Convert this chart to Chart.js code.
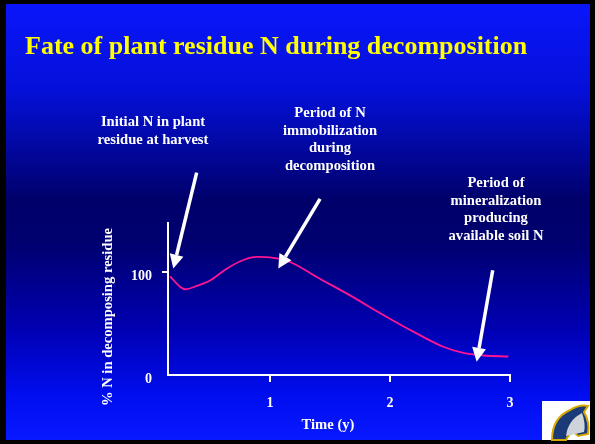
<!DOCTYPE html>
<html>
<head>
<meta charset="utf-8">
<script src="https://cdn.jsdelivr.net/npm/chart.js@4.4.0/dist/chart.umd.min.js"></script>
<style>
  html, body { margin: 0; padding: 0; background: #000; }
  canvas { display: block; }
</style>
</head>
<body>
<canvas id="fateChart" width="595" height="444"></canvas>
<script>
// time in years and % N remaining in the residue
const years = [0.167, 0.25, 0.292, 0.389, 0.5, 0.639, 0.778, 0.889, 1.028, 1.167, 1.389, 1.667, 1.944, 2.222, 2.444, 2.611, 2.778, 2.986];
const nPercent = [96, 86, 83.5, 86.7, 92, 103.5, 112, 115, 114, 110, 95.5, 77.5, 58.5, 40.5, 27.5, 21.5, 19, 18];
const xTicks = [1, 2, 3];
const yTicks = [0, 100];

const title = "Fate of plant residue N during decomposition";
// arrows: [tailX, tailY, tipX, tipY] in data units
const arrows = [
  [0.389, 197, 0.194, 103.6],
  [1.417, 171.5, 1.069, 103.6],
  [2.856, 102, 2.722, 12.9]
];
const notes = [
  { lines: ["Initial N in plant", "residue at harvest"], x: 153, y: 122 },
  { lines: ["Period of N", "immobilization", "during", "decomposition"], x: 330, y: 113 },
  { lines: ["Period of", "mineralization", "producing", "available soil N"], x: 496, y: 183 }
];

const serif = "'Liberation Serif', 'Times New Roman', serif";

const slidePlugin = {
  id: "slide",
  beforeDraw(chart) {
    const c = chart.ctx;
    c.save();
    c.fillStyle = "#000";
    c.fillRect(0, 0, chart.width, chart.height);
    const g = c.createLinearGradient(0, 4, 0, 440);
    g.addColorStop(0, "#0a16fa");
    g.addColorStop(0.2, "#0410d8");
    g.addColorStop(0.45, "#00006a");
    g.addColorStop(0.55, "#000070");
    g.addColorStop(0.75, "#0000b4");
    g.addColorStop(0.9, "#000ef0");
    g.addColorStop(1, "#0818ff");
    c.fillStyle = g;
    c.fillRect(6, 4, 584, 436);
    c.restore();
  },
  afterDraw(chart) {
    const c = chart.ctx;
    const xs = chart.scales.x, ys = chart.scales.y;
    c.save();
    // title
    c.fillStyle = "#ffff00";
    c.font = "bold 26px " + serif;
    c.textBaseline = "middle";
    c.textAlign = "left";
    c.fillText(title, 25, 47);

    // notes
    c.fillStyle = "#ffffff";
    c.font = "bold 14.6px " + serif;
    c.textAlign = "center";
    notes.forEach(n => {
      n.lines.forEach((l, i) => c.fillText(l, n.x, n.y + i * 17.8));
    });

    // axis titles
    c.font = "bold 14.6px " + serif;
    c.fillText("Time (y)", 328, 425);
    c.save();
    c.translate(108, 317);
    c.rotate(-Math.PI / 2);
    c.fillText("% N in decomposing residue", 0, 0);
    c.restore();

    // arrows
    c.strokeStyle = "#fff";
    c.fillStyle = "#fff";
    c.lineWidth = 3.5;
    arrows.forEach(a => {
      const x1 = xs.getPixelForValue(a[0]), y1 = ys.getPixelForValue(a[1]);
      const x2 = xs.getPixelForValue(a[2]), y2 = ys.getPixelForValue(a[3]);
      const ang = Math.atan2(y2 - y1, x2 - x1);
      const hl = 14, hw = 7;
      const bx = x2 - hl * Math.cos(ang), by = y2 - hl * Math.sin(ang);
      c.beginPath();
      c.moveTo(x1, y1);
      c.lineTo(bx, by);
      c.stroke();
      c.beginPath();
      c.moveTo(x2, y2);
      c.lineTo(bx + hw * Math.sin(ang), by - hw * Math.cos(ang));
      c.lineTo(bx - hw * Math.sin(ang), by + hw * Math.cos(ang));
      c.closePath();
      c.fill();
    });

    // little horse-head logo in the corner
    c.fillStyle = "#fff";
    c.fillRect(542, 401, 48, 39);
    c.beginPath();
    c.moveTo(552, 440);
    c.quadraticCurveTo(552, 418, 570, 410);
    c.quadraticCurveTo(580, 404, 588, 406);
    c.lineTo(584, 412);
    c.quadraticCurveTo(590, 422, 588, 434);
    c.lineTo(578, 436);
    c.quadraticCurveTo(572, 428, 566, 440);
    c.closePath();
    c.fillStyle = "#1a3a78";
    c.fill();
    c.strokeStyle = "#d8a800";
    c.lineWidth = 2;
    c.stroke();
    c.fillStyle = "#cfd3da";
    c.beginPath();
    c.moveTo(566, 436);
    c.quadraticCurveTo(568, 420, 582, 413);
    c.quadraticCurveTo(586, 424, 584, 432);
    c.closePath();
    c.fill();
    c.restore();
  }
};

new Chart(document.getElementById("fateChart"), {
  type: "line",
  data: {
    datasets: [{
      data: years.map((t, i) => ({ x: t, y: nPercent[i] })),
      borderColor: "#ff1493",
      borderWidth: 1.8,
      pointRadius: 0,
      tension: 0.4,
      cubicInterpolationMode: "monotone"
    }]
  },
  options: {
    responsive: false,
    animation: false,
    layout: { padding: { top: 223, right: 85, bottom: 0, left: 0 } },
    plugins: { legend: { display: false }, tooltip: { enabled: false } },
    scales: {
      x: {
        type: "linear",
        min: 0.15,
        max: 3,
        afterFit(s) { s.height = 69; },
        afterBuildTicks(s) { s.ticks = xTicks.map(v => ({ value: v })); },
        border: { color: "#fff", width: 2 },
        grid: { drawOnChartArea: false, drawTicks: true, tickLength: 7, color: "#fff", lineWidth: 2 },
        ticks: { color: "#fff", font: { family: serif, weight: "bold", size: 14 }, padding: 13 }
      },
      y: {
        min: 0,
        max: 148,
        afterFit(s) { s.width = 168; },
        afterBuildTicks(s) { s.ticks = yTicks.map(v => ({ value: v })); },
        border: { color: "#fff", width: 2 },
        grid: {
          drawOnChartArea: false, drawTicks: true, tickLength: 6, lineWidth: 2,
          color: ctx => (ctx.tick && ctx.tick.value === 0 ? "rgba(0,0,0,0)" : "#fff")
        },
        ticks: { color: "#fff", font: { family: serif, weight: "bold", size: 14 }, padding: 10, labelOffset: 4 }
      }
    }
  },
  plugins: [slidePlugin]
});
</script>
</body>
</html>
